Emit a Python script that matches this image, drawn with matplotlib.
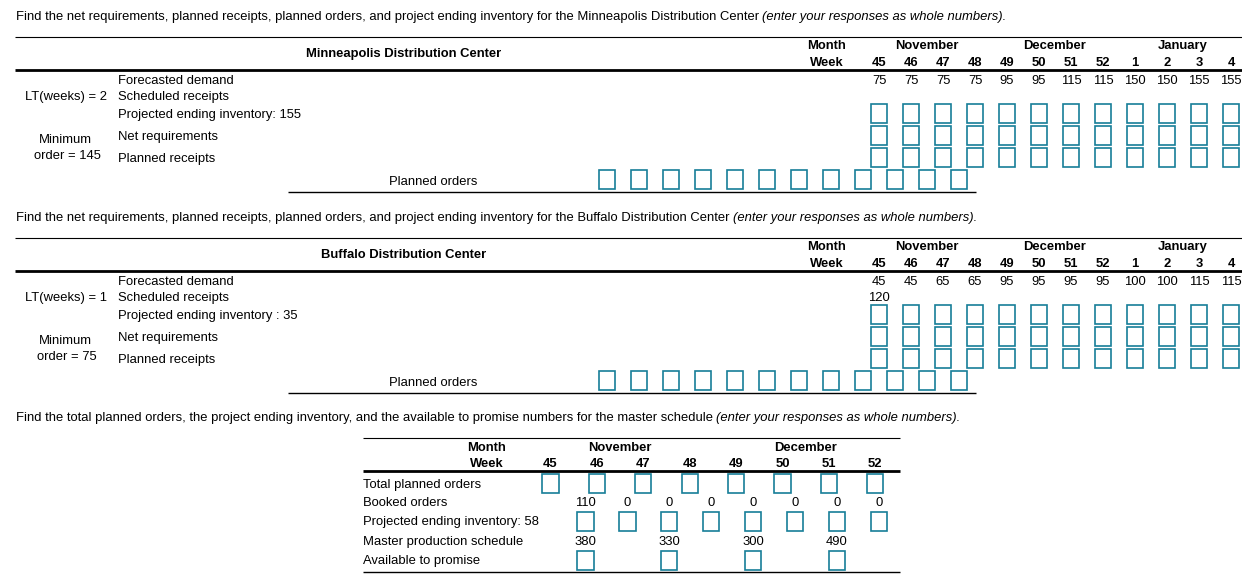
import matplotlib
matplotlib.use('Agg')
import matplotlib.pyplot as plt
from matplotlib.patches import Rectangle

plt.rcParams['font.family'] = ['Liberation Sans', 'DejaVu Sans']

FS = 9.36
TEAL = '#177e98'

weeks = ['45', '46', '47', '48', '49', '50', '51', '52', '1', '2', '3', '4']
months = ['November', 'December', 'January']
minn_demand = [75, 75, 75, 75, 95, 95, 115, 115, 150, 150, 155, 155]
minn_sched = [None] * 12
buff_demand = [45, 45, 65, 65, 95, 95, 95, 95, 100, 100, 115, 115]
buff_sched = [120] + [None] * 11

ms_weeks = ['45', '46', '47', '48', '49', '50', '51', '52']
ms_months = ['November', 'December']
booked = [110, 0, 0, 0, 0, 0, 0, 0]
mps = [380, None, 330, None, 300, None, 490, None]

intro = [
    'Find the net requirements, planned receipts, planned orders, and project ending inventory for the Minneapolis Distribution Center',
    'Find the net requirements, planned receipts, planned orders, and project ending inventory for the Buffalo Distribution Center',
    'Find the total planned orders, the project ending inventory, and the available to promise numbers for the master schedule',
]
italic_note = '(enter your responses as whole numbers).'

fig = plt.figure(figsize=(12.42, 5.83), dpi=100)
ax = fig.add_axes([0, 0, 1, 1])
ax.set_xlim(0, 1242)
ax.set_ylim(583, 0)
ax.axis('off')
renderer = fig.canvas.get_renderer()


def txt(x, y, s, ha='left', bold=False, italic=False):
    # y is the visual middle of the line, text sits on a baseline below it
    return ax.text(x, y + 4.6, s, ha=ha, va='baseline', fontsize=FS,
                   fontweight='bold' if bold else 'normal',
                   fontstyle='italic' if italic else 'normal', color='black')


def box(cx, top, w=15.5, h=19):
    ax.add_patch(Rectangle((cx - w / 2, top), w, h, fill=False,
                           edgecolor=TEAL, linewidth=1.2))


def hline(y, x0, x1, lw):
    ax.plot([x0, x1], [y, y], color='black', linewidth=lw, solid_capstyle='butt')


def sentence(y, s):
    t = txt(15.5, y, s)
    bb = t.get_window_extent(renderer)
    txt(bb.x1 + 3.6, y, italic_note, italic=True)


def mrp_table(off, title, lt_text, min_text, pei_text, demand, sched):
    cols = [879 + 32 * i for i in range(len(weeks))]
    hline(36.5 + off, 15, 1242, 0.8)
    txt(403.5, 52.5 + off, title, ha='center', bold=True)
    txt(827, 44 + off, 'Month', ha='center', bold=True)
    txt(827, 61 + off, 'Week', ha='center', bold=True)
    for k, m in enumerate(months):
        txt((cols[4 * k] + cols[4 * k + 3]) / 2, 44 + off, m, ha='center', bold=True)
    for c, w in zip(cols, weeks):
        txt(c, 61 + off, w, ha='center', bold=True)
    hline(70 + off, 15, 1242, 2.0)

    for c, v in zip(cols, demand):
        txt(c, 79 + off, str(v), ha='center')
    for c, v in zip(cols, sched):
        if v is not None:
            txt(c, 95 + off, str(v), ha='center')

    txt(118, 79 + off, 'Forecasted demand')
    txt(118, 95 + off, 'Scheduled receipts')
    txt(118, 113.5 + off, pei_text)
    txt(118, 135.5 + off, 'Net requirements')
    txt(118, 157.5 + off, 'Planned receipts')
    txt(107, 95 + off, lt_text, ha='right')
    txt(65.5, 138 + off, 'Minimum', ha='center')
    txt(67, 154.5 + off, min_text, ha='center')
    txt(389, 180 + off, 'Planned orders')

    for top in (104.3, 126.3, 148.3):
        for c in cols:
            box(c, top + off)
    for i in range(len(weeks)):
        box(607.3 + 32 * i, 170 + off, w=16)
    hline(191.5 + off, 288, 976, 1.0)


sentence(15, intro[0])
mrp_table(0, 'Minneapolis Distribution Center', 'LT(weeks) = 2', 'order = 145',
          'Projected ending inventory: 155', minn_demand, minn_sched)

sentence(216, intro[1])
mrp_table(201, 'Buffalo Distribution Center', 'LT(weeks) = 1', 'order = 75',
          'Projected ending inventory : 35', buff_demand, buff_sched)

# --- master schedule ---
sentence(416, intro[2])
wcols = [550.5 + 46.4 * i for i in range(len(ms_weeks))]
slots = [585.5 + 41.9 * i for i in range(len(ms_weeks))]

hline(438.3, 363, 900, 0.8)
txt(487, 446, 'Month', ha='center', bold=True)
txt(487, 462.3, 'Week', ha='center', bold=True)
for k, m in enumerate(ms_months):
    txt((wcols[4 * k] + wcols[4 * k + 3]) / 2, 446, m, ha='center', bold=True)
for c, w in zip(wcols, ms_weeks):
    txt(c, 462.3, w, ha='center', bold=True)
hline(471, 363, 900, 2.0)

txt(363, 483.3, 'Total planned orders')
txt(363, 501.7, 'Booked orders')
txt(363, 520.7, 'Projected ending inventory: 58')
txt(363, 540.2, 'Master production schedule')
txt(363, 559.3, 'Available to promise')

for c in wcols:
    box(c, 474.3, w=16.4)
for s, v in zip(slots, booked):
    txt(s, 501.7, str(v), ha='center')
for s in slots:
    box(s, 512.3, w=16.4)
for s, v in zip(slots, mps):
    if v is not None:
        txt(s, 540.2, str(v), ha='center')
        box(s, 550.7, w=16.4)
hline(571.7, 363, 900, 1.0)

fig.savefig('out.png', dpi=100)
